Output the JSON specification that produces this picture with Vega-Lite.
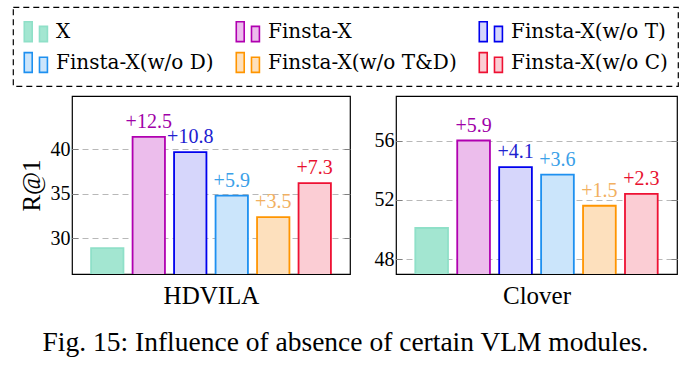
{
  "$schema": "https://vega.github.io/schema/vega-lite/v6.json",
  "padding": {"left": 12, "top": 6, "right": 5, "bottom": 5},
  "background": "white",
  "config": {
    "font": "Liberation Serif",
    "view": {"stroke": "black", "strokeWidth": 1.2},
    "axis": {"labelFont": "Liberation Serif", "titleFont": "Liberation Serif", "labelFontSize": 20, "titleFontSize": 25, "titleFontWeight": "normal", "labelColor": "black", "titleColor": "black"},
    "legend": {"labelFont": "DejaVu Serif"},
    "text": {"font": "Liberation Serif"}
  },
  "title": {"text": "Fig. 15: Influence of absence of certain VLM modules.", "orient": "bottom", "anchor": "middle", "fontSize": 27.5, "fontWeight": "normal", "font": "Liberation Serif", "color": "black", "offset": 20},
  "data": {"values": [
    {"dataset": "HDVILA", "model": "X", "value": 28.9, "label": ""},
    {"dataset": "HDVILA", "model": "Finsta-X", "value": 41.4, "label": "+12.5"},
    {"dataset": "HDVILA", "model": "Finsta-X(w/o T)", "value": 39.7, "label": "+10.8"},
    {"dataset": "HDVILA", "model": "Finsta-X(w/o D)", "value": 34.8, "label": "+5.9"},
    {"dataset": "HDVILA", "model": "Finsta-X(w/o T&D)", "value": 32.4, "label": "+3.5"},
    {"dataset": "HDVILA", "model": "Finsta-X(w/o C)", "value": 36.2, "label": "+7.3"},
    {"dataset": "Clover", "model": "X", "value": 50.1, "label": ""},
    {"dataset": "Clover", "model": "Finsta-X", "value": 56.0, "label": "+5.9"},
    {"dataset": "Clover", "model": "Finsta-X(w/o T)", "value": 54.2, "label": "+4.1"},
    {"dataset": "Clover", "model": "Finsta-X(w/o D)", "value": 53.7, "label": "+3.6"},
    {"dataset": "Clover", "model": "Finsta-X(w/o T&D)", "value": 51.6, "label": "+1.5"},
    {"dataset": "Clover", "model": "Finsta-X(w/o C)", "value": 52.4, "label": "+2.3"}
  ]},
  "spacing": 21,
  "resolve": {"scale": {"y": "independent"}},
  "hconcat": [
    {
      "width": 278, "height": 178,
      "transform": [{"filter": "datum.dataset === 'HDVILA'"}],
      "encoding": {
        "x": {"field": "model", "type": "nominal", "sort": ["X", "Finsta-X", "Finsta-X(w/o T)", "Finsta-X(w/o D)", "Finsta-X(w/o T&D)", "Finsta-X(w/o C)"],
              "scale": {"paddingInner": 0.22, "paddingOuter": 0.46},
              "axis": {"labels": false, "ticks": false, "domain": false, "title": "HDVILA", "titlePadding": 9}}
      },
      "resolve": {"axis": {"y": "independent"}},
      "layer": [
        {
          "mark": {"type": "bar", "strokeWidth": 1.8, "clip": true},
          "encoding": {
            "y": {"field": "value", "type": "quantitative", "scale": {"domain": [26, 46], "nice": false, "zero": false},
              "axis": {"values": [30, 35, 40], "title": "R@1", "grid": true, "gridDash": [6, 4], "gridColor": "#b8b8b8", "domain": false, "ticks": true, "tickSize": -6, "tickColor": "#808080", "labelPadding": 8, "titlePadding": 6}},
            "fill": {"field": "model", "type": "nominal",
              "scale": {"domain": ["X", "Finsta-X", "Finsta-X(w/o T)", "Finsta-X(w/o D)", "Finsta-X(w/o T&D)", "Finsta-X(w/o C)"],
                        "range": ["#a3e6d1", "#ecbdec", "#d6d6fb", "#cbe5fb", "#fde0bd", "#fbcdd4"]},
              "legend": {"title": null, "orient": "none", "legendX": -59, "legendY": -89, "columns": 3, "direction": "horizontal",
                "symbolType": "M-1,-0.75H-0.4V0.75H-1Z M0.15,-0.4H0.75V0.75H0.15Z", "symbolSize": 700, "symbolStrokeWidth": 1.6,
                "labelFont": "DejaVu Serif", "labelFontSize": 20, "labelColor": "black", "labelLimit": 300,
                "strokeColor": "black", "padding": 10, "columnPadding": 19, "rowPadding": 3,
                "encode": {"legend": {"update": {"strokeDash": {"value": [6, 4]}, "strokeWidth": {"value": 1.2}}}}}},
            "stroke": {"field": "model", "type": "nominal",
              "scale": {"domain": ["X", "Finsta-X", "Finsta-X(w/o T)", "Finsta-X(w/o D)", "Finsta-X(w/o T&D)", "Finsta-X(w/o C)"],
                        "range": ["#8fe0c8", "#b000b0", "#0000ee", "#1e90f0", "#ff9500", "#ee1133"]},
              "legend": {"title": null, "orient": "none", "legendX": -59, "legendY": -89, "columns": 3, "direction": "horizontal",
                "symbolType": "M-1,-0.75H-0.4V0.75H-1Z M0.15,-0.4H0.75V0.75H0.15Z", "symbolSize": 700, "symbolStrokeWidth": 1.6,
                "labelFont": "DejaVu Serif", "labelFontSize": 20, "labelColor": "black", "labelLimit": 300,
                "strokeColor": "black", "padding": 10, "columnPadding": 19, "rowPadding": 3,
                "encode": {"legend": {"update": {"strokeDash": {"value": [6, 4]}, "strokeWidth": {"value": 1.2}}}}}}
          }
        },
        {
          "mark": {"type": "text", "baseline": "alphabetic", "dy": -9, "fontSize": 20, "font": "Liberation Serif"},
          "encoding": {
            "y": {"field": "value", "type": "quantitative",
              "axis": {"orient": "right", "values": [30, 35, 40], "title": null, "labels": false, "grid": false, "domain": false, "ticks": true, "tickSize": -6, "tickColor": "#808080"}},
            "text": {"field": "label"},
            "color": {"field": "model", "type": "nominal", "legend": null,
              "scale": {"domain": ["X", "Finsta-X", "Finsta-X(w/o T)", "Finsta-X(w/o D)", "Finsta-X(w/o T&D)", "Finsta-X(w/o C)"],
                        "range": ["#8fe0c8", "#a000a8", "#2020d0", "#3aa0e8", "#f2b060", "#e8102e"]}}
          }
        }
      ]
    },
    {
      "width": 281, "height": 178,
      "transform": [{"filter": "datum.dataset === 'Clover'"}],
      "encoding": {
        "x": {"field": "model", "type": "nominal", "sort": ["X", "Finsta-X", "Finsta-X(w/o T)", "Finsta-X(w/o D)", "Finsta-X(w/o T&D)", "Finsta-X(w/o C)"],
              "scale": {"paddingInner": 0.22, "paddingOuter": 0.46},
              "axis": {"labels": false, "ticks": false, "domain": false, "title": "Clover", "titlePadding": 9}}
      },
      "resolve": {"axis": {"y": "independent"}},
      "layer": [
        {
          "mark": {"type": "bar", "strokeWidth": 1.8, "clip": true},
          "encoding": {
            "y": {"field": "value", "type": "quantitative", "scale": {"domain": [47, 59], "nice": false, "zero": false},
              "axis": {"values": [48, 52, 56], "title": null, "grid": true, "gridDash": [6, 4], "gridColor": "#b8b8b8", "domain": false, "ticks": true, "tickSize": -6, "tickColor": "#808080", "labelPadding": 8}},
            "fill": {"field": "model", "type": "nominal"},
            "stroke": {"field": "model", "type": "nominal"}
          }
        },
        {
          "mark": {"type": "text", "baseline": "alphabetic", "dy": -9, "fontSize": 20, "font": "Liberation Serif"},
          "encoding": {
            "y": {"field": "value", "type": "quantitative",
              "axis": {"orient": "right", "values": [48, 52, 56], "title": null, "labels": false, "grid": false, "domain": false, "ticks": true, "tickSize": -6, "tickColor": "#808080"}},
            "text": {"field": "label"},
            "color": {"field": "model", "type": "nominal", "legend": null}
          }
        }
      ]
    }
  ]
}
